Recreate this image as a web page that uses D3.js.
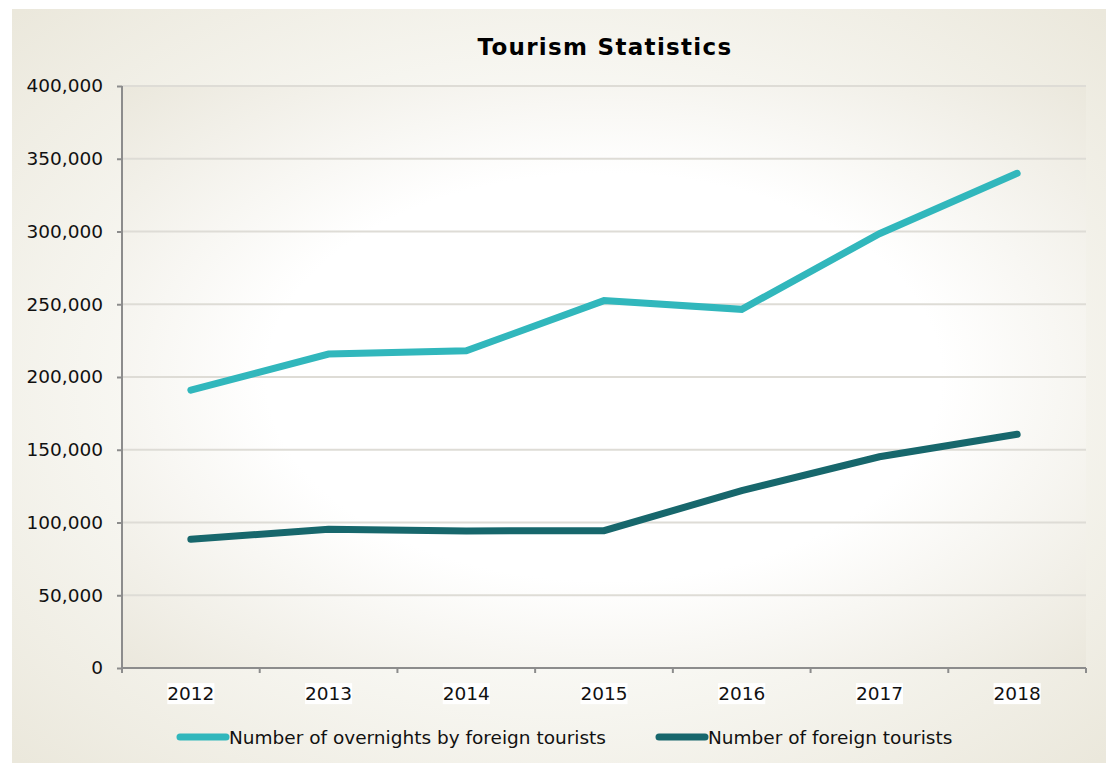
<!DOCTYPE html>
<html>
<head>
<meta charset="utf-8">
<script src="https://cdn.jsdelivr.net/npm/d3@7"></script>
<style>
  body { margin: 0; background: #fff; }
  svg { display: block; font-family: "DejaVu Sans", Verdana, sans-serif; }
  .axis path, .axis line { stroke: #8c8c8c; stroke-width: 2; }
</style>
</head>
<body>
<svg id="chart" width="1106" height="764"></svg>
<script>
const years = ["2012", "2013", "2014", "2015", "2016", "2017", "2018"];
const overnights = [191000, 215800, 218000, 252500, 246500, 298500, 340000];
const tourists = [88500, 95300, 94200, 94400, 121900, 145200, 160600];
const yTicks = [0, 50000, 100000, 150000, 200000, 250000, 300000, 350000, 400000];
const seriesNames = ["Number of overnights by foreign tourists", "Number of foreign tourists"];
const seriesColors = ["#31b7bc", "#17676c"];

const svg = d3.select("#chart");
const margin = { top: 86, right: 20, bottom: 96, left: 122 };
const width = 1086 - margin.left;
const height = 668 - margin.top;
const fontFamily = '"DejaVu Sans", Verdana, sans-serif';

// background gradients
const defs = svg.append("defs");
function radial(id, stops) {
    const g = defs.append("radialGradient").attr("id", id)
        .attr("cx", "50%").attr("cy", "50%").attr("r", "70%");
    stops.forEach(s => g.append("stop").attr("offset", s[0]).attr("stop-color", s[1]));
}
radial("bgGrad", [["0%", "#ffffff"], ["45%", "#fbfbf8"], ["100%", "#ebe8dc"]]);
radial("plotGrad", [["0%", "#ffffff"], ["50%", "#ffffff"], ["100%", "#ebe8dd"]]);

svg.append("rect").attr("x", 12).attr("y", 9).attr("width", 1094).attr("height", 754)
    .attr("fill", "url(#bgGrad)");

const g = svg.append("g").attr("transform", `translate(${margin.left},${margin.top})`);

g.append("rect").attr("width", width).attr("height", height).attr("fill", "url(#plotGrad)");

const x = d3.scaleBand().domain(years).range([0, width]).padding(0);
const y = d3.scaleLinear().domain([0, 400000]).range([height, 0]);

// gridlines
g.append("g").selectAll("line")
    .data(yTicks.slice(1))
    .enter().append("line")
    .attr("x1", 0).attr("x2", width)
    .attr("y1", d => y(d)).attr("y2", d => y(d))
    .attr("stroke", "#dedcd6").attr("stroke-width", 2);

g.append("g")
    .attr("class", "axis")
    .call(d3.axisLeft(y).tickValues(yTicks).tickSize(5).tickPadding(14).tickFormat(d3.format(",")))
    .call(a => a.select(".domain").attr("d", `M0,${height}V0`))
    .call(a => a.selectAll("text").attr("font-size", 18.5).attr("font-family", fontFamily).attr("fill", "#111"));

const xAxis = g.append("g")
    .attr("class", "axis")
    .attr("transform", `translate(0,${height})`)
    .call(d3.axisBottom(x).tickSize(0).tickPadding(19))
    .call(a => a.select(".domain").attr("d", `M0,0H${width}`))
    .call(a => a.selectAll("text").attr("font-size", 18.5).attr("font-family", fontFamily).attr("fill", "#111"));

// category boundary ticks
xAxis.selectAll(".bound")
    .data(d3.range(years.length + 1))
    .enter().append("line")
    .attr("class", "bound")
    .attr("x1", i => i * x.step()).attr("x2", i => i * x.step())
    .attr("y1", 0).attr("y2", 5);

// white boxes behind year labels
xAxis.selectAll(".tick").each(function() {
    const t = d3.select(this).select("text");
    const bb = t.node().getBBox();
    d3.select(this).insert("rect", "text")
        .attr("x", bb.x).attr("y", bb.y)
        .attr("width", bb.width).attr("height", bb.height)
        .attr("fill", "#fff");
});

const line = d3.line().x((d, i) => x(years[i]) + x.bandwidth() / 2).y(d => y(d));

[overnights, tourists].forEach((s, k) => {
    g.append("path").datum(s)
        .attr("fill", "none")
        .attr("stroke", seriesColors[k])
        .attr("stroke-width", 7)
        .attr("stroke-linecap", "round")
        .attr("stroke-linejoin", "miter")
        .attr("d", line);
});

// title
svg.append("text")
    .attr("x", 605).attr("y", 55)
    .attr("text-anchor", "middle")
    .attr("font-size", 23).attr("font-weight", "bold")
    .attr("letter-spacing", 1.3)
    .attr("fill", "#000")
    .text("Tourism Statistics");

// legend
const legendX = [180, 659];
const legend = svg.append("g");
seriesNames.forEach((name, k) => {
    const lg = legend.append("g").attr("transform", `translate(${legendX[k]},737)`);
    lg.append("line").attr("x1", 0).attr("x2", 46).attr("y1", 0).attr("y2", 0)
        .attr("stroke", seriesColors[k]).attr("stroke-width", 7).attr("stroke-linecap", "round");
    lg.append("text").attr("x", 49).attr("y", 7)
        .attr("font-size", 18.5).attr("fill", "#111")
        .text(name);
});
</script>
</body>
</html>
